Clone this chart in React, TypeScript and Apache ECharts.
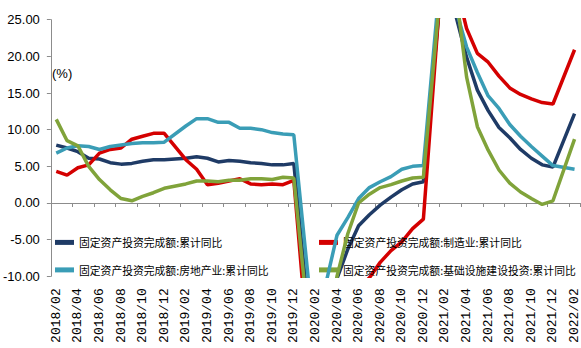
import { useEffect, useRef } from "react";
import * as echarts from "echarts";

const months = [
  "2018/02", "2018/03", "2018/04", "2018/05", "2018/06", "2018/07", "2018/08", "2018/09", "2018/10", "2018/11", "2018/12",
  "2019/01", "2019/02", "2019/03", "2019/04", "2019/05", "2019/06", "2019/07", "2019/08", "2019/09", "2019/10", "2019/11", "2019/12",
  "2020/01", "2020/02", "2020/03", "2020/04", "2020/05", "2020/06", "2020/07", "2020/08", "2020/09", "2020/10", "2020/11", "2020/12",
  "2021/01", "2021/02", "2021/03", "2021/04", "2021/05", "2021/06", "2021/07", "2021/08", "2021/09", "2021/10", "2021/11", "2021/12",
  "2022/01", "2022/02",
];

const seriesNames = [
  "固定资产投资完成额:累计同比",
  "固定资产投资完成额:制造业:累计同比",
  "固定资产投资完成额:房地产业:累计同比",
  "固定资产投资完成额:基础设施建设投资:累计同比",
];

const faiTotal = [
  7.9, 7.5, 7.0, 6.1, 6.0, 5.5, 5.3, 5.4, 5.7, 5.9, 5.9,
  null, 6.1, 6.3, 6.1, 5.6, 5.8, 5.7, 5.5, 5.4, 5.2, 5.2, 5.4,
  null, -24.5, -16.1, -10.3, -6.3, -3.1, -1.6, -0.3, 0.8, 1.8, 2.6, 2.9,
  null, 35.0, 25.6, 19.9, 15.4, 12.6, 10.3, 8.9, 7.3, 6.1, 5.2, 4.9,
  null, 12.2,
];

const faiManufacturing = [
  4.3, 3.8, 4.8, 5.2, 6.8, 7.3, 7.5, 8.7, 9.1, 9.5, 9.5,
  null, 5.9, 4.6, 2.5, 2.7, 3.0, 3.3, 2.6, 2.5, 2.6, 2.5, 3.1,
  null, -31.5, -25.2, -18.8, -14.8, -11.7, -10.2, -8.1, -6.5, -5.3, -3.5, -2.2,
  null, 37.3, 29.8, 23.8, 20.4, 19.2, 17.3, 15.7, 14.8, 14.2, 13.7, 13.5,
  null, 20.9,
];

const faiRealEstate = [
  6.8, 7.5, 7.8, 7.7, 7.3, 7.7, 7.9, 8.1, 8.2, 8.2, 8.3,
  null, 10.5, 11.5, 11.5, 11.0, 11.0, 10.2, 10.2, 10.0, 9.6, 9.4, 9.3,
  null, -20.0, -10.8, -4.4, -2.0, 0.6, 2.1, 2.9, 3.6, 4.6, 5.0, 5.1,
  null, 38.0, 26.5, 21.3, 17.8, 14.6, 12.9, 10.7, 9.1, 7.7, 6.4, 5.1,
  null, 4.6,
];

const faiInfrastructure = [
  11.4, 8.5, 7.8, 5.0, 3.2, 1.8, 0.6, 0.3, 0.9, 1.4, 2.0,
  null, 2.6, 3.0, 3.0, 2.9, 3.1, 3.1, 3.3, 3.3, 3.2, 3.5, 3.4,
  null, -26.0, -20.0, -10.0, -4.2, 0.0, 1.2, 2.1, 2.5, 3.0, 3.4, 3.5,
  null, 36.0, 29.0, 17.2, 10.4, 7.2, 4.5, 2.7, 1.5, 0.6, -0.2, 0.3,
  null, 8.7,
];

const seriesData = [faiTotal, faiManufacturing, faiRealEstate, faiInfrastructure];
const seriesColors = ["#1F3B66", "#D40000", "#3A9DB6", "#80A33A"];

const AXIS_GRAY = "#8c8c8c";

export default function App() {
  const ref = useRef<HTMLDivElement>(null);

  useEffect(() => {
    if (!ref.current) return;
    const chart = echarts.init(ref.current, null, { renderer: "svg" });

    const legendPos = [
      { left: 55, top: 237 },
      { left: 319, top: 237 },
      { left: 55, top: 264.5 },
      { left: 319, top: 264.5 },
    ];

    chart.setOption({
      animation: false,
      backgroundColor: "#ffffff",
      grid: { left: 47, right: 0, top: 19.7, bottom: 71.7, containLabel: false },
      legend: seriesNames.map((n, i) => ({
        data: [n],
        left: legendPos[i].left,
        top: legendPos[i].top,
        padding: 0,
        icon: "rect",
        itemWidth: 19,
        itemHeight: 5,
        selectedMode: false,
        textStyle: { fontSize: 10.8, color: "#000", fontFamily: "Noto Sans CJK SC" },
      })),
      xAxis: [
        {
          type: "category",
          data: months,
          position: "bottom",
          boundaryGap: true,
          axisLine: { show: true, onZero: true, lineStyle: { color: AXIS_GRAY, width: 1 } },
          axisTick: { show: true, interval: 1, length: 4, lineStyle: { color: AXIS_GRAY } },
          axisLabel: { show: false },
          splitLine: { show: false },
        },
        {
          type: "category",
          data: months,
          position: "bottom",
          boundaryGap: true,
          axisLine: { show: false, onZero: false },
          axisTick: { show: false },
          axisLabel: {
            show: true,
            interval: 1,
            rotate: 90,
            margin: 12,
            fontSize: 13,
            color: "#000",
            fontFamily: "Liberation Mono",
          },
          splitLine: { show: false },
        },
      ],
      yAxis: {
        type: "value",
        min: -10,
        max: 25,
        interval: 5,
        axisLine: { show: true, lineStyle: { color: AXIS_GRAY, width: 1 } },
        axisTick: { show: true, length: 4, lineStyle: { color: AXIS_GRAY } },
        splitLine: { show: false },
        axisLabel: {
          margin: 11,
          fontSize: 13,
          color: "#000",
          fontFamily: "Liberation Sans Narrow, Liberation Sans",
          formatter: (v: number) => v.toFixed(2),
        },
      },
      graphic: [
        {
          type: "text",
          left: 52,
          top: 67,
          style: { text: "(%)", fontSize: 13, fill: "#000", fontFamily: "Liberation Sans" },
        },
      ],
      series: seriesNames.map((n, i) => ({
        name: n,
        type: "line",
        xAxisIndex: 0,
        yAxisIndex: 0,
        data: seriesData[i],
        connectNulls: true,
        symbol: "none",
        showSymbol: false,
        smooth: false,
        clip: true,
        lineStyle: { width: 3.5, color: seriesColors[i] },
        itemStyle: { color: seriesColors[i] },
        z: 2 + i,
      })),
    });

    return () => chart.dispose();
  }, []);

  return (
    <div
      ref={ref}
      style={{ position: "absolute", left: 0, top: 0, width: 581, height: 348 }}
    />
  );
}
